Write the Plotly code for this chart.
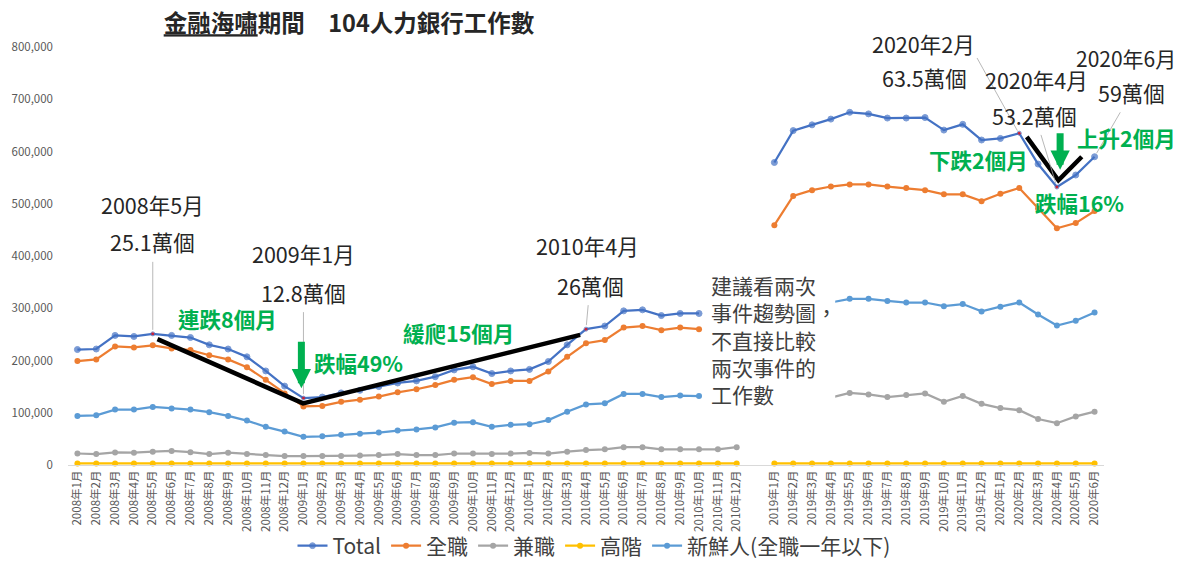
import plotly.graph_objects as go

# ---------------- data ----------------
months_0810 = [f"{y}年{m}月" for y in (2008, 2009, 2010) for m in range(1, 13)]
months_1920 = [f"2019年{m}月" for m in range(1, 13)] + [f"2020年{m}月" for m in range(1, 7)]
gap_label = " "
categories = months_0810 + [gap_label] + months_1920

# 2008/1 - 2010/10 (Total, 全職, 新鮮人) ; 2008/1 - 2010/12 (兼職, 高階)
total_0810 = [221000, 222000, 248000, 246000, 251000, 248000, 244000, 230000, 222000, 207000, 180000, 151000,
              128000, 130000, 138000, 143000, 150000, 157000, 161000, 169000, 182000, 188000, 175000, 180000,
              183000, 198000, 230000, 260000, 266000, 295000, 297000, 286000, 290000, 290000]
full_0810 = [199000, 202000, 227000, 225000, 229000, 223000, 220000, 210000, 202000, 187000, 163000, 137000,
             112000, 113000, 121000, 125000, 131000, 139000, 145000, 153000, 163000, 168000, 155000, 161000,
             161000, 179000, 207000, 233000, 239000, 263000, 266000, 258000, 263000, 260000]
part_0810 = [22000, 21000, 24000, 23500, 25500, 27000, 24500, 21000, 23500, 21000, 19000, 17000,
             17000, 17000, 17000, 18000, 19000, 21000, 19000, 19000, 22000, 22000, 21000, 22000,
             23000, 22000, 25500, 28500, 30000, 34000, 34000, 30000, 30000, 30000, 30000, 34000]
senior_0810 = [3000] * 36
fresh_0810 = [94000, 95000, 106000, 106000, 111000, 108000, 106000, 101000, 94000, 85000, 73000, 64000,
              54000, 55000, 58000, 60000, 62000, 66000, 68000, 72000, 81000, 82000, 73000, 77000,
              78000, 86000, 102000, 116000, 118000, 136000, 136000, 130000, 133000, 132000]

# 2019/1 - 2020/6
total_1920 = [579000, 640000, 651000, 662000, 675000, 672000, 664000, 664000, 665000, 641000, 652000, 622000,
              625000, 635000, 576000, 532000, 555000, 590000]
full_1920 = [459000, 515000, 526000, 533000, 537000, 537000, 533000, 530000, 526000, 518000, 518000, 505000,
             519000, 530000, 491000, 453000, 463000, 486000]
part_1920 = [118000, 125000, 125000, 129000, 138000, 135000, 130000, 134000, 137000, 121000, 132000, 117000,
             109000, 105000, 88000, 80000, 93000, 102000]
senior_1920 = [3000] * 18
fresh_1920 = [265000, 305000, 308000, 311000, 318000, 318000, 314000, 311000, 311000, 304000, 308000, 294000,
              303000, 311000, 288000, 267000, 276000, 292000]

highlight_months = ["2008年5月", "2009年1月", "2010年4月", "2020年2月", "2020年4月"]

series_names = ["Total", "全職", "兼職", "高階", "新鮮人(全職一年以下)"]
series_0810 = [total_0810, full_0810, part_0810, senior_0810, fresh_0810]
series_1920 = [total_1920, full_1920, part_1920, senior_1920, fresh_1920]
colors = ["#4472C4", "#ED7D31", "#A5A5A5", "#FFC000", "#5B9BD5"]

note_text = "建議看兩次<br>事件趨勢圖，<br>不直接比較<br>兩次事件的<br>工作數"


def full_series(a, b):
    return list(a) + [None] * (len(months_0810) - len(a)) + [None] + list(b)


traces = []
for rank, (name, a, b, c) in enumerate(zip(series_names, series_0810, series_1920, colors), start=1):
    y = full_series(a, b)
    if name == "Total":
        mcol = ["#FF0000" if cat in highlight_months else c for cat in categories]
        msize = [4 if cat in highlight_months else 6 for cat in categories]
    else:
        mcol = c
        msize = 6
    traces.append(go.Scatter(
        x=categories, y=y, name=name, mode="lines+markers", legendrank=rank,
        line=dict(color=c, width=2.25), marker=dict(color=mcol, size=msize, symbol="circle"),
        connectgaps=False, cliponaxis=False,
    ))

# draw order: Total on top
fig = go.Figure(data=traces[::-1])

FONT = "Noto Sans CJK TC, Noto Sans, sans-serif"
DARK = "#262626"
GREEN = "#00B050"
LEAD = "#A6A6A6"
BIG = 21.5
GSIZE = 21.5

ann = []


def label(x, y, text, size=BIG, color=DARK, bold=False, ref="data", xanchor="center"):
    t = f"<b>{text}</b>" if bold else text
    r = ("x", "y") if ref == "data" else ("paper", "paper")
    ann.append(dict(x=x, y=y, xref=r[0], yref=r[1], text=t, showarrow=False,
                    font=dict(family=FONT, size=size, color=color), xanchor=xanchor, yanchor="middle"))


def leader(cat, val, text, ax, ay):
    ann.append(dict(x=cat, y=val, xref="x", yref="y", text=text, showarrow=True,
                    arrowhead=0, arrowwidth=0.8, arrowcolor=LEAD, ax=ax, ay=ay,
                    standoff=4, startstandoff=3,
                    font=dict(family=FONT, size=BIG, color=DARK)))


def green_arrow(x, y, ay):
    ann.append(dict(x=x, y=y, xref="x", yref="y", text="", showarrow=True,
                    arrowhead=2, arrowwidth=7, arrowsize=0.55, arrowcolor=GREEN, ax=0, ay=ay))


label(4, 498000, "2008年5月")
leader("2008年5月", 251000, "25.1萬個", 0, -92)
label(12, 404000, "2009年1月")
leader("2009年1月", 128000, "12.8萬個", 0, -106)
label(27.1, 421000, "2010年4月")
leader("2010年4月", 260000, "26萬個", 4, -44)
label(0.8257, 1.0072, "2020年2月", ref="paper")
label(44.95, 741000, "63.5萬個")
label(50.89, 737000, "2020年4月")
leader("2020年4月", 532000, "53.2萬個", -22, -72)
label(1.0212, 0.9737, "2020年6月", size=21, ref="paper")
leader("2020年6月", 590000, "59萬個", 37, -64)

label(7.96, 281000, "連跌8個月", GSIZE, GREEN, True)
label(14.91, 197000, "跌幅49%", GSIZE, GREEN, True)
label(20.22, 253000, "緩爬15個月", GSIZE, GREEN, True)
label(47.82, 584000, "下跌2個月", GSIZE, GREEN, True)
label(1.0215, 0.7823, "上升2個月", GSIZE, GREEN, True, ref="paper")
label(53.18, 503000, "跌幅16%", GSIZE, GREEN, True)

green_arrow(11.89, 147000, -48)
green_arrow(52.17, 565000, -38)

ann.append(dict(x=33.5, y=379000, xref="x", yref="y", xanchor="left", yanchor="top",
                text=note_text, align="left", showarrow=False, borderpad=2,
                bgcolor="rgba(0,0,0,0)", font=dict(family=FONT, size=21, color="#404040")))

shapes = [
    # white background of the note box (hides the lines behind it)
    dict(type="rect", xref="x", yref="y", x0=33.5, x1=40.23, y0=108000, y1=379000,
         fillcolor="white", line=dict(width=0), layer="above"),
    dict(type="path", xref="x", yref="y",
         path="M 4.25,241000 L 11.98,118000 L 26.69,249000",
         line=dict(color="black", width=4.5)),
    dict(type="path", xref="x", yref="y",
         path="M 50.40,628000 L 52.08,545000 L 53.32,590000",
         line=dict(color="black", width=4.5)),
    dict(type="line", xref="x", yref="y", x0=47.76, y0=779000, x1=49.9, y1=640000,
         line=dict(color=LEAD, width=0.8)),
]

fig.update_layout(
    width=1177, height=561,
    margin=dict(l=67.6, r=73.4, t=47, b=96, autoexpand=False),
    paper_bgcolor="white", plot_bgcolor="white",
    font=dict(family=FONT, color="#595959"),
    title=dict(text="<b><u>金融海嘯</u>期間\u3000104人力銀行工作數</b>",
               x=349 / 1177, xanchor="center", xref="container",
               y=1 - 24 / 561, yanchor="middle", yref="container",
               font=dict(family=FONT, size=23.5, color=DARK)),
    xaxis=dict(type="category", categoryorder="array", categoryarray=categories,
               range=[-0.5, len(categories) - 0.5], tickmode="linear", tick0=0, dtick=1,
               tickangle=-90, tickfont=dict(size=11.5, color="#595959"), automargin=False,
               showgrid=False, zeroline=False, showline=True, linecolor="#D9D9D9", linewidth=1,
               ticks=""),
    yaxis=dict(range=[0, 800000], tickvals=[0, 100000, 200000, 300000, 400000, 500000, 600000, 700000, 800000],
               tickformat=",d", tickfont=dict(size=11.5, color="#595959"), automargin=False,
               showgrid=False, zeroline=False, showline=False, ticks="", ticklabelstandoff=14),
    legend=dict(orientation="h", x=594 / 1177, xanchor="center", xref="container",
                y=1 - 546 / 561, yanchor="middle", yref="container", bgcolor="rgba(0,0,0,0)",
                font=dict(family=FONT, size=21, color="#404040"), traceorder="normal"),
    annotations=ann,
    shapes=shapes,
    showlegend=True,
)

fig.write_html("out.html")
